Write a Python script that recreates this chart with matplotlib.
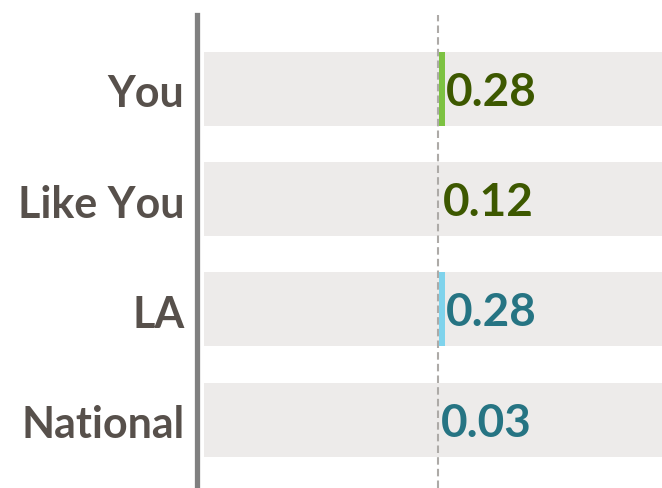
import matplotlib
matplotlib.use("Agg")
import matplotlib.pyplot as plt
import matplotlib.transforms as mtransforms

labels = ["You", "Like You", "LA", "National"]
values = [0.28, 0.12, 0.28, 0.03]
bar_colors = ["#7dc242", "#edebea", "#7fd3ec", "#edebea"]
text_colors = ["#3d5800", "#3d5800", "#267483", "#267483"]

plt.rcParams['font.family'] = ['Lato', 'DejaVu Sans']

fig = plt.figure(figsize=(6.62, 4.88), dpi=100)
ax = fig.add_axes([204/662, 0, 1 - 204/662, 1 - 15/488])

for s in ["top", "right", "bottom"]:
    ax.spines[s].set_visible(False)
ax.spines["left"].set_position(("outward", 5))
ax.spines["left"].set_linewidth(3.8)
ax.spines["left"].set_color("#808080")

ypos = range(len(labels))
# grey background bands
ax.barh(ypos, [20]*4, left=-10.2, height=0.67, color="#edebea", zorder=1)
ax.axvline(0, color="#adaaa7", lw=1.5, ls=(0, (3.6, 2)), zorder=2)
# coloured bars drawn over the zero line, only You and LA visible
colored = [i for i, c in enumerate(bar_colors) if c != "#edebea"]
ax.barh([ypos[i] for i in colored], [values[i] for i in colored], left=0.05,
        height=0.67, color=[bar_colors[i] for i in colored], zorder=3)

for y, v, c in zip(ypos, values, text_colors):
    ax.text(v + 0.1, y, f"{v:.2f}", color=c, fontsize=33, fontweight="bold",
            va="center_baseline", ha="left", zorder=4)

ax.set_xlim(-10.2, 9.8)
ax.set_ylim(3.62, -0.67)
ax.set_yticks(list(ypos))
ax.set_yticklabels(labels, fontsize=31, fontweight="bold", color="#57504b")
ax.tick_params(axis="y", length=0, pad=9)
ax.set_xticks([])
shift = mtransforms.ScaledTranslation(0, -2/100, fig.dpi_scale_trans)
for t in ax.get_yticklabels():
    t.set_transform(t.get_transform() + shift)

fig.savefig("out.png", dpi=100)
